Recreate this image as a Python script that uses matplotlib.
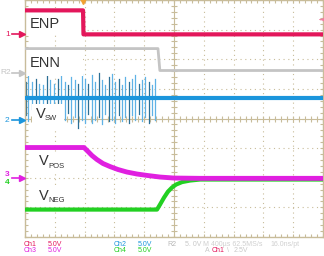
import matplotlib
matplotlib.use('Agg')
import matplotlib.pyplot as plt
import numpy as np

# scope settings: 400 us/div, 5 V/div, screen is 10 x 8 div
t_span = [-2.0, 2.0]          # ms
v_per_div = 5.0
ground = {'ch1': 2.84, 'r2': 1.52, 'ch2': -0.07, 'ch3': -2.0, 'ch4': -2.06}   # div

# ENP (ch1)
enp_t = [-2.0, -1.221, -1.215, 2.0]
enp_v = [4.05, 4.05, 0.0, 0.0]

# ENN (ref R2)
enn_t = [-2.0, -0.215, -0.19, 2.0]
enn_v = [4.2, 4.2, 0.5, 0.5]

# VSW (ch2) baseline and switching spikes
vsw_t = [-2.0, 2.0]
vsw_v = [3.73, 3.73]
spike_t = [-1.99, -1.960, -1.906, -1.852, -1.812, -1.758, -1.705, -1.664, -1.611, -1.557,
           -1.517, -1.463, -1.423, -1.383, -1.329, -1.289, -1.235, -1.195, -1.154, -1.101,
           -1.060, -1.007, -0.966, -0.926, -0.872, -0.832, -0.792, -0.738, -0.698, -0.658,
           -0.604, -0.564, -0.523, -0.470, -0.430, -0.389, -0.336, -0.295, -0.255]
spike_hi = [6.43, 7.61, 6.43, 6.94, 6.09, 5.92, 7.61, 6.77, 6.09, 6.94,
            7.61, 6.43, 5.92, 7.27, 6.77, 6.09, 7.78, 6.94, 6.09, 7.61,
            6.43, 7.95, 6.77, 5.92, 7.27, 7.78, 6.43, 6.94, 5.92, 7.27,
            6.43, 6.94, 7.61, 6.09, 6.77, 7.27, 6.43, 5.92, 6.94]
spike_lo = [0.86, 0.01, 1.87, 0.86, 1.36, -0.83, 0.52, -0.33, 0.86, 0.01,
            0.86, 0.18, 1.36, -0.33, 0.52, -1.17, 0.18, -0.33, 1.03, -0.33,
            0.18, 0.52, -0.66, 1.03, 0.01, 0.18, -0.33, 0.86, 0.01, 0.52,
            -0.33, 0.86, 0.18, 1.03, 0.01, 0.52, -0.33, 0.86, 0.18]

# VPOS (ch3)
vpos_t = [-2.0, -1.208, -1.154, -1.101, -1.034, -0.953, -0.859, -0.752, -0.631,
          -0.497, -0.349, -0.188, 0.0, 0.349, 2.0]
vpos_v = [5.10, 5.10, 4.43, 3.75, 3.07, 2.40, 1.89, 1.39, 0.96,
          0.63, 0.37, 0.12, -0.05, -0.1, -0.1]

# VNEG (ch4)
vneg_t = [-2.0, -0.228, -0.188, -0.134, -0.081, -0.027, 0.027, 0.107, 0.215, 0.349, 2.0]
vneg_v = [-5.07, -5.07, -4.23, -3.05, -2.04, -1.35, -0.85, -0.43, -0.17, 0.0, 0.0]

RED = '#e3175b'
GRAY = '#c4c4c4'
BLUE = '#1b95dc'
MAG = '#e020e0'
GREEN = '#22d022'
TAN = '#c8bc9a'
INK = '#333333'


def scr(ch, v):
    return ground[ch] + np.asarray(v) / v_per_div


W, H = 324, 256
fig = plt.figure(figsize=(W / 100, H / 100), dpi=100)
ax = fig.add_axes([25 / W, 19 / H, 298 / W, 237 / H])
ax.set_xlim(t_span)
ax.set_ylim(-4, 4)

# graticule
for xg in np.arange(-2.0, 2.01, 0.4):
    ax.axvline(xg, color=TAN, lw=0.8, ls=(0, (1, 3.3)), zorder=0)
for yg in range(-4, 5):
    ax.axhline(yg, color=TAN, lw=0.8, ls=(0, (1, 3.3)), zorder=0)
ax.axvline(0, color=TAN, lw=0.8, zorder=0)
ax.axhline(0, color=TAN, lw=0.8, zorder=0)
xm = np.arange(-2.0, 2.001, 0.08)
ym = np.arange(-4, 4.001, 0.2)
ax.plot(xm, np.zeros_like(xm), ls='none', marker='|', ms=4, mew=0.8, color=TAN, zorder=0)
ax.plot(np.zeros_like(ym), ym, ls='none', marker='_', ms=4, mew=0.8, color=TAN, zorder=0)
for s in ax.spines.values():
    s.set_color(TAN)
    s.set_linewidth(1.0)
ax.set_xticks([])
ax.set_yticks([])
ax.set_xticks(xm, minor=True)
ax.set_yticks(ym, minor=True)
ax.tick_params(which='minor', direction='in', length=2.5, width=0.8, color=TAN,
               top=True, right=True, labelbottom=False, labelleft=False)

# label boxes (x, y, width in div, height in div)
boxes = [(-2.0, 2.87, 1.93, 0.72), (-2.0, 1.45, 1.93, 0.85),
         (-1.9, -0.32, 1.05, 0.8), (-1.84, -1.82, 1.2, 0.62), (-1.84, -2.95, 1.2, 0.62)]
for bx, by, bw, bh in boxes:
    ax.add_patch(plt.Rectangle((bx, by), bw * 0.4, bh, color='white', zorder=2.5, lw=0))

# traces
ax.plot(enp_t, scr('ch1', enp_v), color=RED, lw=3.0, zorder=3)
ax.plot(enn_t, scr('r2', enn_v), color=GRAY, lw=2.0, zorder=3)
for i, (t, hi, lo) in enumerate(zip(spike_t, spike_hi, spike_lo)):
    c = '#2c6f95' if i % 3 == 0 else '#5fb2e6'
    ax.plot([t, t], scr('ch2', [lo, hi]), color=c, lw=0.9, zorder=2)
ax.plot(vsw_t, scr('ch2', vsw_v), color=BLUE, lw=3.0, zorder=3)
ax.plot(vneg_t, scr('ch4', vneg_v), color=GREEN, lw=3.0, zorder=3)
ax.plot(vpos_t, scr('ch3', vpos_v), color=MAG, lw=3.5, zorder=4)

# trace names
fnt = 'Liberation Sans'
ax.text(-1.93, 3.2, 'ENP', fontsize=10.5, family=fnt, color=INK, va='center', zorder=5)
ax.text(-1.93, 1.89, 'ENN', fontsize=10.5, family=fnt, color=INK, va='center', zorder=5)
for tx, ty, sub in [(-1.85, 0.15, 'SW'), (-1.81, -1.45, 'POS'), (-1.81, -2.62, 'NEG')]:
    ax.text(tx, ty, 'V', fontsize=10.5, family=fnt, color=INK, va='center', zorder=5)
    ax.text(tx + 0.12, ty - 0.16, sub, fontsize=5.5, family=fnt, color=INK, va='center', zorder=5)


def fx(px):
    return px / W


def fy(py):
    return 1 - py / H


# channel ground markers on the left
def marker(py, txt, color, tx=5):
    fig.text(fx(tx), fy(py), txt, fontsize=6, family=fnt, color=color, va='center', ha='left')
    fig.add_artist(plt.Line2D([fx(12), fx(21)], [fy(py), fy(py)], color=color, lw=1.2))
    fig.add_artist(plt.Line2D([fx(22)], [fy(py)], marker='>', ms=4.5, color=color, ls='none'))


marker(34, '1', RED)
marker(73, 'R2', GRAY, tx=0)
marker(120, '2', BLUE)
marker(178, '', MAG)
fig.text(fx(5), fy(175), '3', fontsize=6, family=fnt, color=MAG, va='center', fontweight='bold')
fig.text(fx(5), fy(182), '4', fontsize=6, family=fnt, color=GREEN, va='center', fontweight='bold')

# trigger position and level
ax.plot([-1.221], [3.97], marker='v', ms=5, color='#f0a030', clip_on=False, zorder=6)
ax.annotate('', xy=(1.925, scr('ch1', 2.5)), xytext=(2.0, scr('ch1', 2.5)),
            arrowprops=dict(arrowstyle='-|>', color='#f080a0', lw=1.0, mutation_scale=5))

# status line
rows = [
    (24, 244, 'Ch1', RED), (48, 244, '5.0V', RED),
    (24, 251, 'Ch3', MAG), (48, 251, '5.0V', MAG),
    (114, 244, 'Ch2', BLUE), (138, 244, '5.0V', BLUE),
    (114, 251, 'Ch4', GREEN), (138, 251, '5.0V', GREEN),
    (167, 244, 'R2', '#b8b8b8'), (185, 244, '5. 0V', '#c8c8c8'),
    (203, 244, 'M 400\u00b5s 62.5MS/s', '#d0d0d0'), (270, 244, '16.0ns/pt', '#d0d0d0'),
    (205, 251, 'A', '#c8c8c8'), (212, 251, 'Ch1', RED),
    (227, 251, '\\', '#c8c8c8'), (234, 251, '2.5V', '#c8c8c8'),
]
for px, py, txt, c in rows:
    fig.text(fx(px), fy(py), txt, fontsize=5, family=fnt, color=c, va='center', ha='left')

fig.savefig('out.png', dpi=100, facecolor='white')
